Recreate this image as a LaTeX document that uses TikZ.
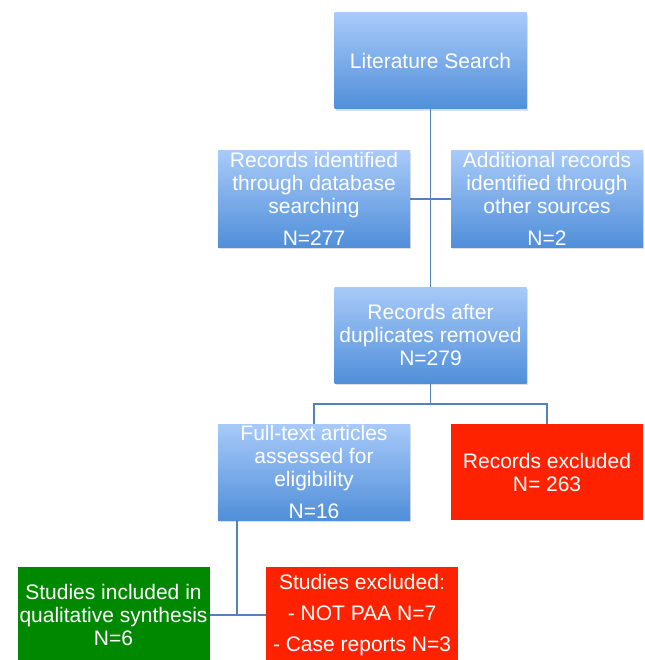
\documentclass[tikz,border=0pt]{standalone}
\usepackage{fontspec}
\setmainfont{Liberation Sans}
\usetikzlibrary{shadows}
\definecolor{boxtop}{RGB}{168,202,249}
\definecolor{boxbot}{RGB}{80,143,217}
\definecolor{exred}{RGB}{255,34,0}
\definecolor{ingreen}{RGB}{0,137,0}
\definecolor{linkblue}{RGB}{84,130,190}

\begin{document}
\begin{tikzpicture}[x=1pt,y=-1pt,
 box/.style={rectangle,minimum width=192pt,minimum height=96pt,inner sep=0pt,align=center,text=white,font=\fontsize{21}{23}\selectfont},
 bluebox/.style={box,top color=boxtop,bottom color=boxbot,drop shadow={opacity=0.25,shadow xshift=1pt,shadow yshift=-2pt}},
 redbox/.style={box,fill=exred},
 greenbox/.style={box,fill=ingreen},
 link/.style={draw=linkblue,line width=1.3pt}]
\useasboundingbox (0,0) rectangle (644,660);
\clip (0,0) rectangle (644,660);

\node [bluebox] (lit) at (430.5,61) {Literature Search};
\node [bluebox] (db) at (314,199) {Records identified\\through database\\searching\\[9pt]N=277};
\node [bluebox] (other) at (547,199) {Additional records\\identified through\\other sources\\[9pt]N=2};
\node [bluebox] (dup) at (430.5,335) {Records after\\duplicates removed\\N=279};
\node [bluebox] (full) at (314,472) {Full-text articles\\assessed for\\eligibility\\[9pt]N=16};
\node [redbox] (recex) at (547,472) {Records excluded\\N= 263};
\node [greenbox] (incl) at (113.5,615) {Studies included in\\qualitative synthesis\\N=6};
\node [redbox] (studex) at (362,615) {Studies excluded:\\[8pt]- NOT PAA N=7\\[8pt]- Case reports N=3};

\coordinate (split) at (430.5,404);
\coordinate (tap) at (237,615);

\draw [link] (lit) -- (dup);
\draw [link] (db) -- (other);
\draw [link] (dup) -- (split);
\draw [link] (full.north) |- (split) -| (recex.north);
\draw [link] (full.south -| tap) -- (tap);
\draw [link] (incl) -- (studex);
\end{tikzpicture}
\end{document}
